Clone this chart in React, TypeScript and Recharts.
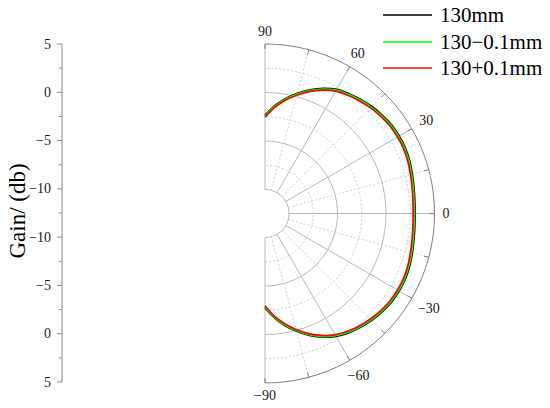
import React from 'react';
import {
  RadarChart,
  Radar,
  PolarGrid,
  PolarAngleAxis,
  PolarRadiusAxis,
  Legend,
  LineChart,
  XAxis,
  YAxis,
  Label,
} from 'recharts';

// ---------------- data ----------------
const angles = [
  -90, -85, -80, -75, -70, -65, -60, -55, -50, -45, -40, -35, -30, -25, -20, -15, -10, -5,
  0, 5, 10, 15, 20, 25, 30, 35, 40, 45, 50, 55, 60, 65, 70, 75, 80, 85, 90,
];

const gain130 = [
  -2.75, -1.7, -0.75, 0.1, 0.9, 1.6, 2.15, 2.55, 2.85, 3.1, 3.3, 3.45, 3.5, 3.5, 3.4, 3.25, 3.12, 3.03,
  3.0, 3.03, 3.12, 3.25, 3.4, 3.5, 3.5, 3.45, 3.3, 3.12, 2.88, 2.6, 2.3, 1.75, 1.1, 0.35, -0.45, -1.35, -2.35,
];

const gainMinus = [
  -2.83, -1.78, -0.83, 0.02, 0.82, 1.52, 2.07, 2.47, 2.77, 3.02, 3.22, 3.37, 3.42, 3.42, 3.32, 3.17, 3.04, 2.95,
  2.92, 2.95, 3.04, 3.17, 3.32, 3.42, 3.42, 3.37, 3.22, 3.04, 2.8, 2.52, 2.22, 1.67, 1.02, 0.27, -0.53, -1.43, -2.43,
];

const gainPlus = [
  -2.95, -1.9, -0.95, -0.1, 0.7, 1.4, 1.95, 2.35, 2.65, 2.9, 3.1, 3.25, 3.3, 3.3, 3.2, 3.05, 2.92, 2.83,
  2.8, 2.83, 2.92, 3.05, 3.2, 3.3, 3.3, 3.25, 3.1, 2.92, 2.68, 2.4, 2.1, 1.55, 0.9, 0.15, -0.65, -1.55, -2.55,
];

const seriesKeys = ['g130', 'gMinus', 'gPlus'];
const seriesNames = ['130mm', '130\u22120.1mm', '130+0.1mm'];
const seriesColors = ['#000000', '#00ff00', '#ff0000'];
const seriesValues = [gain130, gainMinus, gainPlus];

const angleTicks = [-90, -75, -60, -45, -30, -15, 0, 15, 30, 45, 60, 75, 90];
const angleLabelTicks = [-90, -60, -30, 0, 30, 60, 90];
const solidSpokes = [-90, -60, -30, 0, 30, 60, 90];
const dottedSpokes = [-75, -45, -15, 15, 45, 75];

const gainDomain = [-10, 5];
const solidRings = [-10, -5, 0];
const dottedRings = [-7.5, -2.5, 2.5];
const outerRing = [5];

const leftTickLabels = ['5', '0', '\u22125', '\u221210', '\u221210', '\u22125', '0', '5'];

// ---------------- layout constants ----------------
const CX = 265;
const CY = 213.5;
const OUTER = 169.5;
const INNER = 24;
const FONT = 'Liberation Serif, Times New Roman, serif';

// ---------------- table for the library ----------------
const ringList = [
  ...solidRings.map((v, i) => ({ key: `rs${i}`, value: v, kind: 'solid' })),
  ...dottedRings.map((v, i) => ({ key: `rd${i}`, value: v, kind: 'dotted' })),
  ...outerRing.map((v, i) => ({ key: `ro${i}`, value: v, kind: 'outer' })),
];

const radarData = angles.map((a, i) => {
  const row: Record<string, number> = { angle: a };
  seriesKeys.forEach((k, s) => {
    row[k] = seriesValues[s][i];
  });
  ringList.forEach((r) => {
    row[r.key] = r.value;
  });
  return row;
});

const leftMajor = leftTickLabels.map((_, i) => i);
const leftMinor = leftTickLabels.slice(1).map((_, i) => i + 0.5);
const leftTicks = [...leftMajor, ...leftMinor].sort((a, b) => a - b);
const leftRows = leftMajor.map((p) => ({ pos: p }));

// ---------------- renderers ----------------
const fmtAngle = (v: number) => (v < 0 ? `\u2212${Math.abs(v)}` : `${v}`);

// open, smoothed (Catmull-Rom) path through the points computed by the Radar
const makeOpenShape = (stroke: string, width: number, dash?: string) => (props: any) => {
  const pts = (props.points || []).filter(
    (p: any) => Number.isFinite(p.x) && Number.isFinite(p.y)
  );
  if (!pts.length) return <g />;
  let d = `M${pts[0].x},${pts[0].y}`;
  for (let i = 0; i < pts.length - 1; i++) {
    const p0 = pts[i - 1] || pts[i];
    const p1 = pts[i];
    const p2 = pts[i + 1];
    const p3 = pts[i + 2] || p2;
    const c1x = p1.x + (p2.x - p0.x) / 6;
    const c1y = p1.y + (p2.y - p0.y) / 6;
    const c2x = p2.x - (p3.x - p1.x) / 6;
    const c2y = p2.y - (p3.y - p1.y) / 6;
    d += `C${c1x},${c1y} ${c2x},${c2y} ${p2.x},${p2.y}`;
  }
  return (
    <path
      d={d}
      fill="none"
      stroke={stroke}
      strokeWidth={width}
      strokeDasharray={dash}
      strokeLinejoin="round"
    />
  );
};

const AngleTick = (props: any) => {
  const v = props.payload?.value;
  if (!angleLabelTicks.includes(v)) return <g />;
  const text = fmtAngle(v);
  const rad = (v * Math.PI) / 180;
  const hw = text.length * 3.6;
  const hh = 4.8;
  const rr = OUTER + 8 + hw * Math.abs(Math.cos(rad)) + hh * Math.abs(Math.sin(rad));
  const x = CX + rr * Math.cos(rad);
  const y = CY - rr * Math.sin(rad);
  return (
    <text
      x={x}
      y={y}
      textAnchor="middle"
      dominantBaseline="central"
      fontSize={14}
      fontFamily={FONT}
      fill="#1a1a1a"
    >
      {text}
    </text>
  );
};

const LeftTick = (props: any) => {
  const { x, y, payload } = props;
  const v = payload.value;
  const isMajor = Number.isInteger(v);
  return (
    <g>
      <line x1={x - (isMajor ? 5 : 3)} y1={y} x2={x} y2={y} stroke="#888" strokeWidth={1} />
      {isMajor && (
        <text
          x={x - 11}
          y={y}
          textAnchor="end"
          dominantBaseline="central"
          fontSize={14}
          fontFamily={FONT}
          fill="#1a1a1a"
        >
          {leftTickLabels[v]}
        </text>
      )}
    </g>
  );
};

const GainLabel = (props: any) => {
  const vb = props.viewBox || { x: 0, y: 44, width: 62, height: 338 };
  const x = vb.x + 17;
  const y = vb.y + vb.height / 2 - 2;
  return (
    <text
      x={x}
      y={y}
      transform={`rotate(-90 ${x} ${y})`}
      textAnchor="middle"
      dominantBaseline="central"
      fontSize={23}
      fontFamily={FONT}
      fill="#000"
    >
      Gain/ (db)
    </text>
  );
};

const LegendContent = () => (
  <div style={{ fontFamily: FONT }}>
    {seriesNames.map((name, i) => (
      <div key={name} style={{ display: 'flex', alignItems: 'center', height: 26.5 }}>
        <svg width={49} height={26} style={{ display: 'block' }}>
          <line x1={0} y1={13} x2={49} y2={13} stroke={seriesColors[i]} strokeWidth={1.6} />
        </svg>
        <span style={{ marginLeft: 8, fontSize: 21, color: '#000', lineHeight: 1.15, whiteSpace: 'nowrap' }}>
          {name}
        </span>
      </div>
    ))}
  </div>
);

export default function App() {
  return (
    <div
      style={{
        position: 'absolute',
        left: 0,
        top: 0,
        width: 550,
        height: 408,
        background: '#fff',
        overflow: 'hidden',
      }}
    >
      <div style={{ position: 'absolute', left: 0, top: 0 }}>
        <RadarChart
          width={550}
          height={408}
          data={radarData}
          cx={CX}
          cy={CY}
          innerRadius={INNER}
          outerRadius={OUTER}
          startAngle={-90}
          endAngle={90}
          margin={{ top: 0, right: 0, bottom: 0, left: 0 }}
        >
          <PolarGrid
            gridType="circle"
            polarAngles={solidSpokes}
            polarRadius={[]}
            stroke="#b8b8b8"
            strokeWidth={1}
          />
          <PolarGrid
            gridType="circle"
            polarAngles={dottedSpokes}
            polarRadius={[]}
            stroke="#cfcfcf"
            strokeWidth={1}
            strokeDasharray="2 2"
          />
          <PolarAngleAxis
            dataKey="angle"
            type="number"
            domain={[-90, 90]}
            ticks={angleTicks}
            orientation="inner"
            tickSize={5}
            axisLine={false}
            tickLine={{ stroke: '#7f7f7f' }}
            tick={<AngleTick />}
          />
          <PolarRadiusAxis type="number" domain={gainDomain} tick={false} axisLine={false} />
          {ringList.map((r) => (
            <Radar
              key={r.key}
              dataKey={r.key}
              name={r.key}
              legendType="none"
              fill="none"
              fillOpacity={0}
              stroke="none"
              shape={makeOpenShape(
                r.kind === 'outer' ? '#7f7f7f' : r.kind === 'solid' ? '#b8b8b8' : '#cfcfcf',
                1,
                r.kind === 'dotted' ? '2 2' : undefined
              )}
              dot={false}
              isAnimationActive={false}
            />
          ))}
          {seriesKeys.map((k, i) => (
            <Radar
              key={k}
              dataKey={k}
              name={seriesNames[i]}
              fill="none"
              fillOpacity={0}
              stroke={seriesColors[i]}
              shape={makeOpenShape(seriesColors[i], 1.7)}
              dot={false}
              isAnimationActive={false}
            />
          ))}
          <Legend
            layout="vertical"
            align="left"
            verticalAlign="top"
            content={<LegendContent />}
            wrapperStyle={{ left: 383, top: 2, width: 167 }}
          />
        </RadarChart>
      </div>
      <div style={{ position: 'absolute', left: 0, top: 0 }}>
        <LineChart
          width={100}
          height={408}
          data={leftRows}
          margin={{ top: 44, right: 0, bottom: 26, left: 0 }}
        >
          <XAxis dataKey="pos" type="number" hide />
          <YAxis
            type="number"
            domain={[0, leftTickLabels.length - 1]}
            reversed
            allowDataOverflow
            ticks={leftTicks}
            interval={0}
            width={62}
            tickSize={0}
            tickMargin={0}
            tickLine={false}
            axisLine={{ stroke: '#888' }}
            tick={<LeftTick />}
          >
            <Label content={<GainLabel />} />
          </YAxis>
        </LineChart>
      </div>
    </div>
  );
}
